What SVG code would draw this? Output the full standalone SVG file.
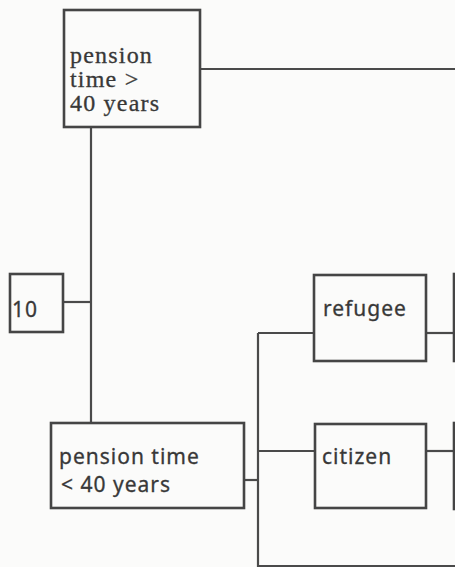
<svg xmlns="http://www.w3.org/2000/svg" width="455" height="567" viewBox="0 0 455 567">
<style>
.box{fill:none;stroke:#454545;stroke-width:2.6}
.ln{fill:none;stroke:#4a4a4a;stroke-width:2.2}
.serif{font-family:"Liberation Serif","Times New Roman",serif;font-size:24px;fill:#383838;letter-spacing:1.2px;stroke:#383838;stroke-width:0.3}
.sans{font-family:"Noto Sans","Liberation Sans",sans-serif;font-size:21px;fill:#383838;letter-spacing:1px;stroke:#383838;stroke-width:0.3}
</style>
<rect width="455" height="567" fill="#fbfbfa"/>
<g id="connectors">
<path class="ln" d="M201,69 H455"/>
<path class="ln" d="M91,128 V422"/>
<path class="ln" d="M64,302 H91"/>
<path class="ln" d="M245,480 H258"/>
<path class="ln" d="M258,333 V566 H455"/>
<path class="ln" d="M258,333 H313"/>
<path class="ln" d="M258,451 H314"/>
<path class="ln" d="M427,333 H453"/>
<path class="ln" d="M427,451 H453"/>
</g>
<g id="n_gt40">
<rect class="box" x="64" y="10" width="136" height="117"/>
<text class="serif" x="70" y="63">pension</text>
<text class="serif" x="70" y="87">time &gt;</text>
<text class="serif" x="70" y="111">40 years</text>
</g>
<g id="n_10">
<rect class="box" x="10" y="274" width="53" height="58"/>
<text class="sans" x="12" y="317">10</text>
</g>
<g id="n_lt40">
<rect class="box" x="51" y="423" width="193" height="85"/>
<text class="sans" x="59" y="464">pension time</text>
<text class="sans" x="61" y="492">&lt; 40 years</text>
</g>
<g id="n_refugee">
<rect class="box" x="314" y="275" width="112" height="86"/>
<text class="sans" x="323" y="316">refugee</text>
</g>
<g id="n_citizen">
<rect class="box" x="315" y="424" width="111" height="84"/>
<text class="sans" x="322" y="464">citizen</text>
</g>
<g id="n_right1">
<rect class="box" x="454" y="274" width="40" height="87"/>
</g>
<g id="n_right2">
<rect class="box" x="454" y="423" width="40" height="86"/>
</g>
</svg>
